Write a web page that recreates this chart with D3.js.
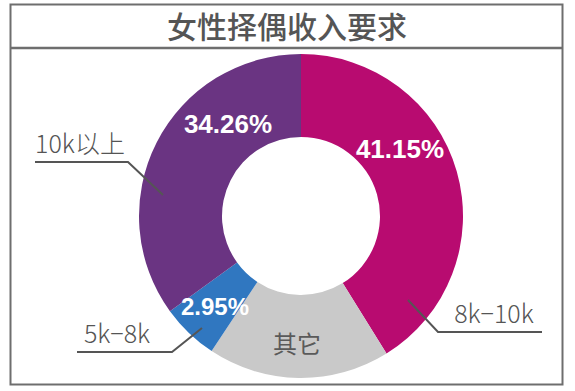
<!DOCTYPE html>
<html><head><meta charset="utf-8">
<script src="https://cdn.jsdelivr.net/npm/d3@7/dist/d3.min.js"></script>
<style>
html,body{margin:0;padding:0;background:#fff;}
svg{display:block;}
</style></head>
<body>
<svg id="chart" width="575" height="391"></svg>
<script>
// ---- data ----
const title = "女性择偶收入要求";
const categories = ["8k−10k", "其它", "5k−8k", "10k以上"];
const percentLabels = ["41.15%", "", "2.95%", "34.26%"];
// slice shares as drawn in the picture (angles)
const shares = [41.15, 18.15, 5.7, 35.0];
const colors = ["#B80B70", "#C9C9C9", "#3077C0", "#6A3482"];

// ---- layout ----
const W = 575, H = 391;
const cx = 301, cy = 216, rOuter = 162, rInner = 79;
const svg = d3.select("#chart");

// frame
svg.append("rect").attr("x", 10.5).attr("y", 4.5).attr("width", 552).attr("height", 380)
  .attr("fill", "none").attr("stroke", "#6e6e6e").attr("stroke-width", 2);
svg.append("line").attr("x1", 10).attr("x2", 563).attr("y1", 48).attr("y2", 48)
  .attr("stroke", "#6e6e6e").attr("stroke-width", 2.5);
svg.append("text").attr("x", 287).attr("y", 38).attr("text-anchor", "middle")
  .attr("font-family", "Noto Sans CJK SC").attr("font-weight", 500)
  .attr("font-size", 30).attr("fill", "#555").text(title);

// donut
const pie = d3.pie().sort(null).value(d => d)
  .startAngle(0).endAngle(2 * Math.PI);
const arcs = pie(shares);
const arc = d3.arc().innerRadius(rInner).outerRadius(rOuter);
const g = svg.append("g").attr("transform", `translate(${cx},${cy})`);
g.selectAll("path").data(arcs).join("path")
  .attr("d", arc).attr("fill", (d, i) => colors[i]);

// percentage labels inside slices (offsets relative to centre)
const inPos = [[99, -58], [-4, 137], [-86, 99], [-73, -83]];
const inSize = [26, 24, 24, 26];
g.selectAll("text.pct").data(arcs).join("text").attr("class", "pct")
  .attr("x", (d, i) => inPos[i][0]).attr("y", (d, i) => inPos[i][1])
  .attr("text-anchor", "middle")
  .attr("font-family", (d, i) => i === 1 ? "Noto Sans CJK SC" : "Liberation Sans, Arial, sans-serif")
  .attr("font-weight", (d, i) => i === 1 ? 400 : 700)
  .attr("font-size", (d, i) => inSize[i])
  .attr("fill", (d, i) => i === 1 ? "#5a5a5a" : "#fff")
  .text((d, i) => i === 1 ? categories[1] : percentLabels[i]);

// outside category labels with leader lines
const callouts = [
  {i: 0, pts: [[408, 300], [438, 332], [542, 332]], tx: 494, ty: 323},
  {i: 2, pts: [[202, 328], [172, 352], [77, 352]], tx: 117, ty: 343},
  {i: 3, pts: [[163, 195], [128, 162], [35, 162]], tx: 80, ty: 153}
];
callouts.forEach(c => {
  svg.append("polyline").attr("points", c.pts.map(p => p.join(",")).join(" "))
    .attr("fill", "none").attr("stroke", "#555").attr("stroke-width", 2);
  svg.append("text").attr("x", c.tx).attr("y", c.ty).attr("text-anchor", "middle")
    .attr("font-family", "Noto Sans CJK SC").attr("font-weight", 300)
    .attr("font-size", 25).attr("fill", "#555").text(categories[c.i]);
});
</script>
</body></html>
